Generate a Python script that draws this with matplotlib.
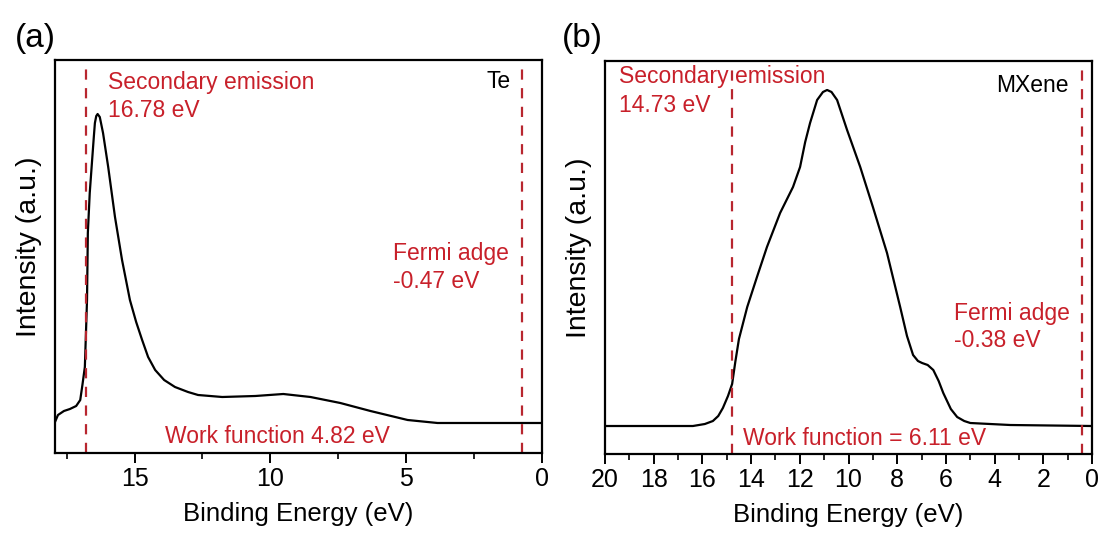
import matplotlib.pyplot as plt
from matplotlib.ticker import MultipleLocator

plt.rcParams['font.family'] = ['Liberation Sans', 'DejaVu Sans']

# (a) Te spectrum
te_energy = [17.93, 17.82, 17.6, 17.38, 17.15, 17.0, 16.92, 16.83, 16.75, 16.72, 16.65, 16.57,
             16.5, 16.46, 16.41, 16.36, 16.28, 16.16, 15.97, 15.72, 15.46, 15.17, 14.94, 14.72,
             14.5, 14.24, 13.91, 13.51, 13.03, 12.66, 11.77, 10.55, 9.52, 8.52, 7.42, 6.31,
             4.94, 3.84, 0.0]
te_intensity = [31, 38, 42, 44, 47, 53, 68, 86, 153, 220, 260, 290,
                316, 330, 337, 339, 336, 320, 286, 236, 193, 153, 131, 113,
                96, 83, 73, 66, 61, 58, 56, 57, 59, 56, 50, 42,
                33, 30, 30]

# (b) MXene spectrum
mx_energy = [20.0, 16.39, 15.9, 15.57, 15.35, 15.16, 14.95, 14.78, 14.65, 14.5, 14.16, 13.76,
             13.35, 12.81, 12.28, 11.99, 11.78, 11.58, 11.29, 11.05, 10.88, 10.7, 10.47, 10.06,
             9.52, 9.0, 8.42, 7.88, 7.6, 7.35, 7.15, 6.98, 6.75, 6.52, 6.3, 6.11, 5.8, 5.54,
             5.25, 5.0, 3.36, 0.0]
mx_intensity = [28, 28, 30, 33, 38, 46, 58, 70, 92, 115, 147, 177,
                207, 241, 267, 287, 312, 331, 354, 362, 364, 362, 354, 324,
                287, 247, 201, 147, 118, 99, 93, 91, 89, 84, 73, 61, 45, 37,
                33, 31, 29, 28]

# dashed marker positions (as drawn)
te_lines = [16.8, 0.71]
mx_lines = [14.8, 0.41]

red = '#c8202a'
dash_red = '#b8262f'

fig = plt.figure(figsize=(11.02, 5.34), dpi=100)
ax1 = fig.add_axes([0.0499, 0.1517, 0.4417, 0.7359])
ax2 = fig.add_axes([0.549, 0.1498, 0.442, 0.7360])


def style(ax, xlim, major, minor):
    ax.set_xlim(*xlim)
    ax.set_ylim(0, 393)
    ax.xaxis.set_major_locator(MultipleLocator(major))
    ax.xaxis.set_minor_locator(MultipleLocator(minor))
    ax.set_yticks([])
    ax.tick_params(axis='x', which='major', direction='out', length=7, width=1.4,
                   labelsize=18, pad=3)
    ax.tick_params(axis='x', which='minor', direction='out', length=4, width=1.2)
    for s in ax.spines.values():
        s.set_linewidth(1.6)
    ax.set_xlabel('Binding Energy (eV)', fontsize=18.5)
    ax.set_ylabel('Intensity (a.u.)', fontsize=20.5)
    ax.xaxis.set_label_coords(0.5, -0.125)
    ax.yaxis.set_label_coords(-0.027, 0.525)


style(ax1, (17.93, 0), 5, 2.5)
style(ax2, (20, 0), 2, 1)

ax1.plot(te_energy, te_intensity, color='black', lw=1.6)
ax2.plot(mx_energy, mx_intensity, color='black', lw=1.6)

for ax, xs in [(ax1, te_lines), (ax2, mx_lines)]:
    for x in xs:
        ax.axvline(x, color=dash_red, lw=1.6, dashes=(4.6, 3.8))

fs = 16.5
t = dict(transform=ax1.transAxes, fontsize=fs, va='baseline')
ax1.text(0.109, 0.926, 'Secondary emission', color=red, **t)
ax1.text(0.109, 0.855, '16.78 eV', color=red, **t)
ax1.text(0.936, 0.929, 'Te', color='black', ha='right', **t)
ax1.text(0.694, 0.491, 'Fermi adge', color=red, **t)
ax1.text(0.694, 0.420, '-0.47 eV', color=red, **t)
ax1.text(0.226, 0.025, 'Work function 4.82 eV', color=red, **t)

t = dict(transform=ax2.transAxes, fontsize=fs, va='baseline')
ax2.text(0.029, 0.944, 'Secondary emission', color=red, **t)
ax2.text(0.029, 0.870, '14.73 eV', color=red, **t)
ax2.text(0.951, 0.921, 'MXene', color='black', ha='right', **t)
ax2.text(0.717, 0.341, 'Fermi adge', color=red, **t)
ax2.text(0.717, 0.272, '-0.38 eV', color=red, **t)
ax2.text(0.283, 0.023, 'Work function = 6.11 eV', color=red, **t)

fig.text(0.0136, 0.912, '(a)', fontsize=24, va='baseline')
fig.text(0.510, 0.912, '(b)', fontsize=24, va='baseline')

fig.savefig('out.png', dpi=100)
